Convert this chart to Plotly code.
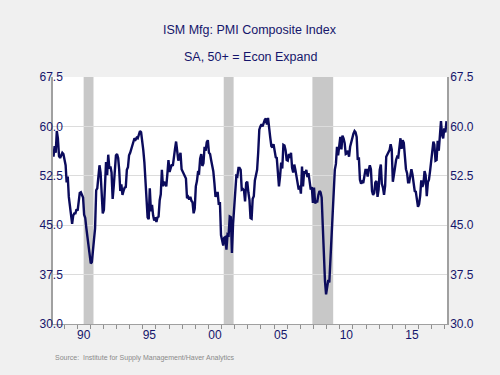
import plotly.graph_objects as go
import pandas as pd

start_month = "1988-03-01"
pmi = [
    # 1988 Mar-Dec
    55.4, 57.0, 56.0, 59.3, 58.2, 55.5, 55.2, 55.6, 56.0, 55.8,
    # 1989
    54.7, 54.1, 51.5, 52.4, 49.3, 47.6, 45.9, 45.2, 46.5, 46.8, 46.8, 47.4,
    # 1990
    47.2, 49.1, 49.9, 50.0, 49.5, 49.2, 46.6, 46.1, 44.5, 43.2, 41.3, 40.8,
    # 1991
    39.2, 39.4, 40.7, 42.8, 44.5, 50.3, 50.6, 52.9, 54.1, 53.0, 49.5, 46.8,
    # 1992
    47.3, 52.7, 54.6, 52.6, 55.7, 53.6, 53.9, 53.0, 49.0, 50.9, 53.9, 55.6,
    # 1993
    55.8, 55.2, 53.5, 50.2, 51.2, 49.6, 50.2, 50.7, 50.8, 53.4, 53.8, 55.6,
    # 1994
    56.0, 56.5, 56.9, 57.4, 58.2, 58.0, 58.3, 58.2, 59.0, 59.3, 59.1, 58.0,
    # 1995
    56.4, 54.5, 52.1, 49.0, 46.2, 45.9, 50.6, 47.1, 48.1, 46.5, 45.7, 46.2,
    # 1996
    45.5, 46.2, 46.3, 48.8, 49.7, 53.4, 50.9, 51.6, 51.3, 50.9, 52.8, 54.9,
    # 1997
    53.1, 53.6, 54.2, 54.0, 55.6, 56.6, 57.7, 56.3, 54.8, 55.4, 56.0, 53.5,
    # 1998
    53.1, 52.7, 52.5, 52.1, 49.1, 49.3, 48.9, 49.3, 48.7, 48.5, 46.8, 47.5,
    # 1999
    50.9, 51.7, 53.0, 52.9, 55.1, 55.8, 54.0, 54.4, 56.9, 56.3, 57.6, 57.9,
    # 2000
    56.0, 55.8, 54.9, 53.9, 53.2, 51.4, 49.3, 49.9, 49.9, 48.1, 48.5, 43.5,
    # 2001
    42.3, 41.9, 43.1, 43.2, 41.3, 43.6, 43.5, 46.3, 46.2, 40.8, 45.1, 48.2,
    # 2002
    49.9, 52.5, 52.4, 53.7, 53.7, 53.4, 50.4, 50.5, 50.3, 48.6, 51.4, 51.6,
    # 2003
    50.0, 48.8, 46.1, 46.0, 49.0, 49.4, 51.8, 52.6, 53.4, 56.0, 59.5, 60.0,
    # 2004
    60.3, 60.0, 60.6, 61.0, 61.2, 60.3, 61.3, 59.4, 58.3, 57.0, 56.8, 57.3,
    # 2005
    56.4, 55.3, 55.2, 52.0, 50.9, 52.4, 54.5, 53.6, 57.2, 57.1, 56.4, 54.9,
    # 2006
    54.8, 55.8, 55.2, 56.0, 53.7, 53.0, 54.2, 53.4, 52.4, 51.4, 50.4, 51.0,
    # 2007
    49.8, 53.9, 50.9, 53.2, 52.8, 53.4, 52.3, 52.9, 51.0, 50.4, 50.8, 48.4,
    # 2008
    50.7, 48.3, 48.6, 48.6, 49.6, 50.2, 50.0, 49.2, 44.8, 38.9, 36.5, 34.5,
    # 2009
    35.6, 36.7, 36.3, 40.1, 42.8, 45.8, 50.0, 53.4, 54.3, 56.9, 55.6, 56.7,
    # 2010
    58.4, 56.5, 58.6, 58.2, 57.5, 55.8, 55.9, 56.3, 55.4, 56.9, 57.6, 58.5,
    # 2011
    58.9, 59.3, 59.1, 58.4, 54.9, 55.3, 51.9, 51.3, 51.6, 51.4, 52.7, 53.4,
    # 2012
    53.4, 52.4, 53.4, 54.1, 53.5, 50.2, 49.6, 49.9, 51.5, 51.7, 49.3, 50.4,
    # 2013
    53.4, 54.2, 51.3, 50.7, 49.6, 51.0, 55.4, 55.7, 56.2, 56.4, 57.3, 56.5,
    # 2014
    51.6, 53.2, 53.7, 54.9, 55.4, 55.3, 57.1, 58.2, 56.6, 57.9, 57.5, 55.1,
    # 2015
    53.5, 52.9, 51.5, 51.5, 52.8, 53.5, 52.7, 51.1, 50.2, 50.1, 48.6, 47.8,
    # 2016
    48.2, 49.5, 51.8, 50.8, 51.3, 53.2, 52.6, 49.4, 51.5, 51.9, 53.2, 54.7,
    # 2017
    56.0, 57.7, 57.2, 54.8, 54.9, 57.8, 56.3, 58.8, 60.8, 58.7, 58.2, 59.7,
    # 2018 Jan-Feb
    59.1, 60.8,
]

recessions = [("1990-07-01", "1991-04-01"), ("2001-03-01", "2001-12-01"), ("2007-12-01", "2009-07-01")]
x_range = ["1988-03-01", "2018-03-01"]
year_labels = ["90", "95", "00", "05", "10", "15"]
label_years = [1990, 1995, 2000, 2005, 2010, 2015]
y_ticks = [30.0, 37.5, 45.0, 52.5, 60.0, 67.5]

dates = pd.date_range(start_month, periods=len(pmi), freq="MS") + pd.Timedelta(days=14)

navy = "#15156b"
fig = go.Figure()
fig.add_trace(go.Scatter(x=dates, y=pmi, mode="lines",
                         line=dict(color="#0b0b5c", width=2.4), showlegend=False, hoverinfo="skip"))
fig.add_trace(go.Scatter(x=dates, y=pmi, mode="lines", xaxis="x2", yaxis="y2",
                         line=dict(color="rgba(0,0,0,0)", width=0), showlegend=False, hoverinfo="skip"))

for a, b in recessions:
    fig.add_shape(type="rect", xref="x", yref="paper", x0=a, x1=b, y0=0, y1=1,
                  fillcolor="#c8c8c8", line=dict(width=0), layer="between")

fig.update_layout(
    width=500, height=375,
    paper_bgcolor="#f0f0f0", plot_bgcolor="#ffffff",
    margin=dict(l=53, r=53, t=77, b=51, autoexpand=False),
    font=dict(family="Liberation Sans, Arial, sans-serif", color=navy),
    xaxis=dict(
        type="date", range=x_range, automargin=False,
        tickmode="linear", tick0="1989-01-01", dtick="M12",
        ticks="outside", ticklen=4, tickcolor="#909090", tickwidth=1,
        showticklabels=False, showgrid=False, zeroline=False,
        showline=True, linecolor="#a0a0a0", linewidth=1,
    ),
    xaxis2=dict(
        type="date", range=x_range, automargin=False, overlaying="x", side="bottom",
        tickmode="array",
        tickvals=[f"{y}-07-01" for y in label_years], ticktext=year_labels,
        ticks="", showgrid=False, zeroline=False, showline=False,
        tickfont=dict(size=12, color=navy), ticklabelstandoff=2,
    ),
    yaxis=dict(
        range=[30, 67.5], tickmode="array", tickvals=y_ticks, tickformat=".1f",
        automargin=False,
        showgrid=True, gridcolor="#dcdcdc", gridwidth=1, zeroline=False,
        showline=True, linecolor="#a0a0a0", linewidth=1.5,
        ticks="", tickfont=dict(size=12, color=navy), ticklabelstandoff=-14,
    ),
    yaxis2=dict(
        range=[30, 67.5], tickmode="array", tickvals=y_ticks, tickformat=".1f",
        automargin=False,
        overlaying="y", side="right", showgrid=False, zeroline=False,
        showline=True, linecolor="#a0a0a0", linewidth=1.5,
        ticks="", tickfont=dict(size=12, color=navy), ticklabelstandoff=-1,
    ),
    annotations=[
        dict(text="ISM Mfg: PMI Composite Index", xref="paper", yref="paper",
             x=0.5, y=1.19, xanchor="center", yanchor="middle", showarrow=False,
             font=dict(size=12.5, color=navy)),
        dict(text="SA, 50+ = Econ Expand", xref="paper", yref="paper",
             x=0.5, y=1.08, xanchor="center", yanchor="middle", showarrow=False,
             font=dict(size=12.5, color=navy)),
        dict(text="Source:  Institute for Supply Management/Haver Analytics", xref="paper", yref="paper",
             x=0.0, y=-0.138, xanchor="left", yanchor="middle", showarrow=False,
             font=dict(size=7, color="#8a8a8a")),
    ],
)

fig.write_html("out.html", config={"displayModeBar": False},
               post_script="document.body.style.margin='0';document.body.style.padding='0';")
